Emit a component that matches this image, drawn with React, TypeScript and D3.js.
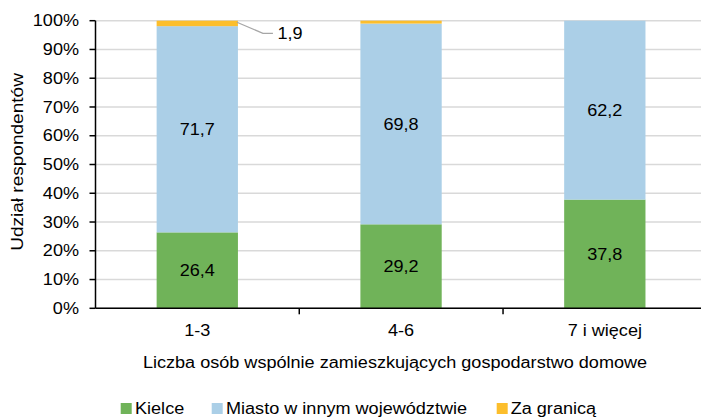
import React from "react";
import * as d3 from "d3";

const categories = ["1-3", "4-6", "7 i więcej"];
const kielce = [26.4, 29.2, 37.8];
const miasto = [71.7, 69.8, 62.2];
const zaGranica = [1.9, 1.0, 0];
const seriesNames = ["Kielce", "Miasto w innym województwie", "Za granicą"];
const colors = ["#70b359", "#abcfe7", "#fcbe2c"];
const yTicks = [0, 10, 20, 30, 40, 50, 60, 70, 80, 90, 100];

const W = 701;
const H = 417;
const SX = 1.13;
const FONT = "'Liberation Sans', Arial, sans-serif";

function T({ x, y, anchor = "middle", children, rotate = false, size = 16 }: any) {
  const tr = rotate
    ? `translate(${x},${y}) rotate(-90) scale(1.19,1)`
    : `translate(${x},${y}) scale(${SX},1)`;
  return (
    <text transform={tr} textAnchor={anchor} fontSize={size} fontFamily={FONT} fill="#000">
      {children}
    </text>
  );
}

export default function App() {
  const x = d3.scaleBand<string>().domain(categories).range([95.5, 706.6]).paddingInner(0.601).paddingOuter(0.3);
  const y = d3.scaleLinear().domain([0, 100]).range([308.3, 20.7]);
  const step = x.step();
  const left = 95.5;

  const data = categories.map((c, i) => ({ cat: c, vals: [kielce[i], miasto[i], zaGranica[i]] }));
  const stack = d3.stack<any>().keys([0, 1, 2] as any).value((d: any, k: any) => d.vals[k]);
  const series = stack(data as any);

  const bx1 = x(categories[0])! + x.bandwidth();
  const topY = y(100);

  return (
    <svg width={W} height={H} style={{ position: "absolute", left: 0, top: 0 }}>
      <rect width={W} height={H} fill="#fff" />
      {yTicks.map((t) => (
        <line key={t} x1={left} x2={W} y1={y(t)} y2={y(t)} stroke="#d9d9d9" strokeWidth={1.5} />
      ))}
      {series.map((s, si) =>
        s.map((d, i) => {
          const h = y(d[0]) - y(d[1]);
          if (h <= 0) return null;
          return (
            <rect
              key={`${si}-${i}`}
              x={x(categories[i])}
              width={x.bandwidth()}
              y={y(d[1])}
              height={h}
              fill={colors[si]}
            />
          );
        })
      )}
      {series.slice(0, 2).map((s, si) =>
        s.map((d, i) => (
          <T key={`l${si}-${i}`} x={x(categories[i])! + x.bandwidth() / 2} y={(y(d[0]) + y(d[1])) / 2 + 5.6}>
            {String((d[1] - d[0]).toFixed(1)).replace(".", ",")}
          </T>
        ))
      )}
      <polyline
        points={`${bx1 - 1},${topY + 1.5} ${bx1 + 25},${topY + 12.6} ${bx1 + 35},${topY + 12.6}`}
        fill="none"
        stroke="#a6a6a6"
        strokeWidth={1.2}
      />
      <T x={bx1 + 39.5} y={topY + 18.6} anchor="start">
        {String(zaGranica[0]).replace(".", ",")}
      </T>
      <line x1={left} x2={left} y1={y(100)} y2={y(0)} stroke="#000" strokeWidth={1.5} />
      <line x1={left} x2={W} y1={y(0)} y2={y(0)} stroke="#000" strokeWidth={1.5} />
      {yTicks.map((t) => (
        <line key={`yt${t}`} x1={left - 6} x2={left} y1={y(t)} y2={y(t)} stroke="#000" strokeWidth={1.5} />
      ))}
      {[1, 2, 3].map((k) => (
        <line key={`xt${k}`} x1={left + k * step} x2={left + k * step} y1={y(0)} y2={y(0) + 6} stroke="#000" strokeWidth={1.5} />
      ))}
      {yTicks.map((t) => (
        <T key={`yl${t}`} x={79} y={y(t) + 5.6} anchor="end">
          {t + "%"}
        </T>
      ))}
      {categories.map((c) => (
        <T key={c} x={x(c)! + x.bandwidth() / 2} y={336}>
          {c}
        </T>
      ))}
      <T x={395} y={368}>Liczba osób wspólnie zamieszkujących gospodarstwo domowe</T>
      <T x={22.5} y={162} rotate>
        Udział respondentów
      </T>
      {[
        { sx: 120.7, tx: 135 },
        { sx: 211.7, tx: 226 },
        { sx: 496.7, tx: 510.7 },
      ].map((p, i) => (
        <g key={`lg${i}`}>
          <rect x={p.sx} y={403} width={11} height={11} fill={colors[i]} />
          <T x={p.tx} y={414} anchor="start">
            {seriesNames[i]}
          </T>
        </g>
      ))}
    </svg>
  );
}
